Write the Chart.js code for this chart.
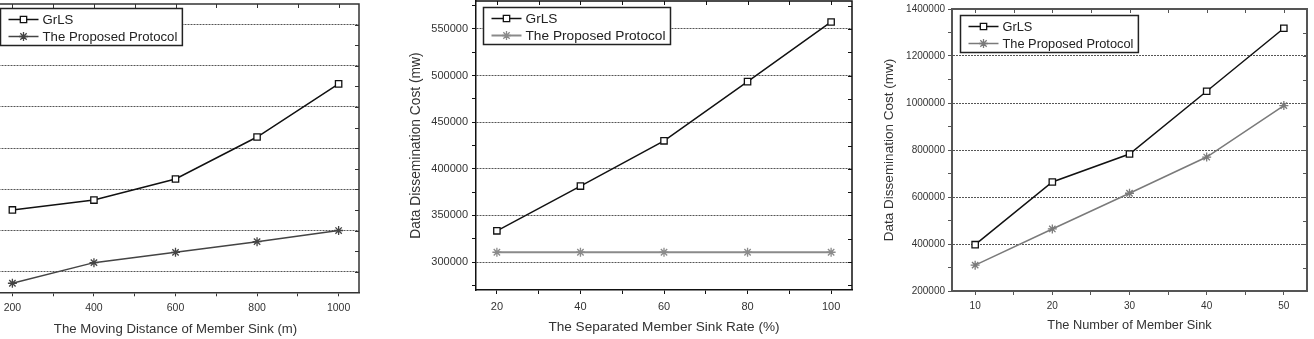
<!DOCTYPE html>
<html>
<head>
<meta charset="utf-8">
<script src="https://cdn.jsdelivr.net/npm/chart.js@4/dist/chart.umd.min.js"></script>
<style>
  body { margin: 0; background: #fff; overflow: hidden; width: 1314px; height: 339px; position: relative; }
  canvas { position: absolute; top: 0; }
</style>
</head>
<body>
<canvas id="distChart" width="445" height="339" style="left:-80px"></canvas>
<canvas id="rateChart" width="462" height="339" style="left:400px"></canvas>
<canvas id="sinkChart" width="442" height="339" style="left:872px"></canvas>
<script>
const seriesNames = ['GrLS', 'The Proposed Protocol']

// left panel: moving distance (y labels are cut off in the picture)
const distance = [200, 400, 600, 800, 1000]
const distGrls = [350000, 374000, 425000, 527000, 656000]
const distProposed = [172000, 222000, 247000, 273000, 300000]
const distXTicks = [200, 300, 400, 500, 600, 700, 800, 900, 1000]
const distXLabels = [200, 400, 600, 800, 1000]
const distYTicks = [200000, 250000, 300000, 350000, 400000, 450000, 500000, 550000, 600000, 650000, 700000, 750000, 800000]
const distYLabels = [200000, 300000, 400000, 500000, 600000, 700000, 800000]

// middle panel: separated member sink rate
const rate = [20, 40, 60, 80, 100]
const rateGrls = [333500, 381500, 430000, 493500, 557500]
const rateProposed = [310500, 310500, 310500, 310500, 310500]
const rateXTicks = [20, 30, 40, 50, 60, 70, 80, 90, 100]
const rateXLabels = [20, 40, 60, 80, 100]
const rateYTicks = [275000, 300000, 325000, 350000, 375000, 400000, 425000, 450000, 475000, 500000, 525000, 550000, 575000]
const rateYLabels = [300000, 350000, 400000, 450000, 500000, 550000]

// right panel: number of member sink
const sinks = [10, 20, 30, 40, 50]
const sinkGrls = [397000, 664000, 783000, 1050000, 1318000]
const sinkProposed = [310000, 464000, 616000, 770000, 989000]
const sinkXTicks = [10, 15, 20, 25, 30, 35, 40, 45, 50]
const sinkXLabels = [10, 20, 30, 40, 50]
const sinkYTicks = [200000, 300000, 400000, 500000, 600000, 700000, 800000, 900000, 1000000, 1100000, 1200000, 1300000, 1400000]
const sinkYLabels = [200000, 400000, 600000, 800000, 1000000, 1200000, 1400000]

const FONT = '"Liberation Sans", Arial, sans-serif'

// top + right frame with inward ticks
const framePlugin = {
  id: 'frame',
  beforeDatasetsDraw(chart, args, opts) {
    const { ctx, chartArea: a, scales: { x, y } } = chart
    ctx.save()
    ctx.strokeStyle = opts.color
    ctx.lineWidth = opts.width
    ctx.beginPath()
    ctx.moveTo(a.left, a.top)
    ctx.lineTo(a.right, a.top)
    ctx.lineTo(a.right, a.bottom)
    ctx.stroke()
    ctx.lineWidth = 1
    ctx.beginPath()
    x.ticks.forEach(t => {
      const px = Math.round(x.getPixelForValue(t.value)) + 0.5
      ctx.moveTo(px, a.top)
      ctx.lineTo(px, a.top + 4)
    })
    y.ticks.forEach(t => {
      const py = Math.round(y.getPixelForValue(t.value)) + 0.5
      ctx.moveTo(a.right, py)
      ctx.lineTo(a.right - 4, py)
    })
    ctx.stroke()
    ctx.restore()
  }
}

// boxed legend sitting inside the plot
const boxLegend = {
  id: 'boxLegend',
  afterDraw(chart, args, o) {
    const { ctx, chartArea: a } = chart
    const left = Math.round(a.left + o.dx) + 0.5
    const top = Math.round(a.top + o.dy) + 0.5
    ctx.save()
    ctx.font = o.size + 'px ' + FONT
    const textW = Math.max(...chart.data.datasets.map(d => ctx.measureText(d.label).width))
    const w = 8 + 30 + 4 + textW + 5
    const h = 37
    ctx.fillStyle = '#fff'
    ctx.fillRect(left, top, w, h)
    ctx.strokeStyle = o.border
    ctx.lineWidth = 1.5
    ctx.strokeRect(left, top, w, h)
    chart.data.datasets.forEach((d, i) => {
      const cy = top + 11 + i * 17
      ctx.strokeStyle = d.borderColor
      ctx.lineWidth = d.borderWidth
      ctx.beginPath()
      ctx.moveTo(left + 8, cy)
      ctx.lineTo(left + 38, cy)
      ctx.stroke()
      ctx.fillStyle = d.pointBackgroundColor
      ctx.strokeStyle = d.pointBorderColor
      ctx.lineWidth = d.pointBorderWidth
      Chart.helpers.drawPoint(ctx, { pointStyle: d.pointStyle, radius: d.pointRadius, rotation: 0, borderWidth: d.pointBorderWidth }, left + 23, cy)
      ctx.fillStyle = '#222'
      ctx.textBaseline = 'middle'
      ctx.fillText(d.label, left + 42, cy + 1)
    })
    ctx.restore()
  }
}

function axis(o) {
  const isY = o.axis === 'y'
  return {
    type: 'linear',
    position: isY ? 'left' : 'bottom',
    min: o.min,
    max: o.max,
    afterBuildTicks: s => { s.ticks = o.ticks.map(v => ({ value: v })) },
    afterFit: s => {
      // fixed axis size, and no extra room for end labels
      if (isY) s.width = o.size; else s.height = o.size
      s.paddingTop = 0
      s.paddingBottom = 0
      s.paddingLeft = 0
      s.paddingRight = 0
    },
    ticks: {
      autoSkip: false,
      maxRotation: 0,
      padding: o.tickPad,
      color: '#333',
      font: { family: FONT, size: o.tickFont },
      callback: v => o.labels.includes(v) ? String(v) : ''
    },
    grid: {
      drawOnChartArea: isY,
      color: c => (isY && c.tick && o.labels.includes(c.tick.value) && c.tick.value > o.min && c.tick.value < o.max) ? '#555' : 'rgba(0,0,0,0)',
      lineWidth: 1,
      tickLength: 4,
      tickWidth: 1,
      tickColor: o.frame
    },
    border: { color: o.frame, width: o.frameWidth, dash: [2, 1] },
    title: {
      display: o.title !== undefined,
      text: o.title,
      color: '#333',
      font: { family: FONT, size: o.titleFont },
      padding: o.titlePad
    }
  }
}

function lineChart(id, o) {
  return new Chart(document.getElementById(id), {
    type: 'line',
    data: {
      datasets: [
        {
          label: seriesNames[0],
          data: o.xs.map((x, i) => ({ x: x, y: o.grls[i] })),
          borderColor: '#111',
          borderWidth: 1.5,
          pointStyle: 'rect',
          pointRadius: 4.5,
          pointBackgroundColor: '#fff',
          pointBorderColor: '#111',
          pointBorderWidth: 1.3
        },
        {
          label: seriesNames[1],
          data: o.xs.map((x, i) => ({ x: x, y: o.proposed[i] })),
          borderColor: o.gray,
          borderWidth: o.grayWidth,
          pointStyle: 'star',
          pointRadius: 4.5,
          pointBackgroundColor: o.gray,
          pointBorderColor: o.gray,
          pointBorderWidth: 1.3
        }
      ]
    },
    options: {
      responsive: false,
      animation: false,
      devicePixelRatio: 1,
      layout: { padding: o.pad, autoPadding: false },
      plugins: {
        legend: { display: false },
        tooltip: { enabled: false },
        frame: { color: o.frame, width: o.frameWidth },
        boxLegend: { dx: o.legendDx, dy: o.legendDy, size: o.legendFont, border: '#222' }
      },
      scales: { x: o.x, y: o.y }
    },
    plugins: [framePlugin, boxLegend]
  })
}

lineChart('distChart', {
  xs: distance, grls: distGrls, proposed: distProposed,
  gray: '#444', grayWidth: 1.5, frame: '#333', frameWidth: 1.5,
  pad: { top: 4, right: 6, left: 0, bottom: 0 },
  legendDx: 8, legendDy: 4, legendFont: 13.2,
  x: axis({ axis: 'x', min: 150, max: 1050, ticks: distXTicks, labels: distXLabels, size: 46.7, tickPad: 6, tickFont: 10.5, frame: '#333', frameWidth: 1.5,
    title: 'The Moving Distance of Member Sink (m)', titleFont: 13.2, titlePad: { top: 0, bottom: 2 } }),
  y: axis({ axis: 'y', min: 150000, max: 850000, ticks: distYTicks, labels: distYLabels, size: 72, tickPad: 3, tickFont: 10.5, frame: '#333', frameWidth: 1.5 })
})

lineChart('rateChart', {
  xs: rate, grls: rateGrls, proposed: rateProposed,
  gray: '#8a8a8a', grayWidth: 2, frame: '#111', frameWidth: 1.5,
  pad: { top: 1, right: 10, left: 0, bottom: 0 },
  legendDx: 7, legendDy: 6, legendFont: 13.7,
  x: axis({ axis: 'x', min: 15, max: 105, ticks: rateXTicks, labels: rateXLabels, size: 49, tickPad: 6, tickFont: 11, frame: '#111', frameWidth: 1.5,
    title: 'The Separated Member Sink Rate (%)', titleFont: 13.6, titlePad: { top: 0, bottom: 4 } }),
  y: axis({ axis: 'y', min: 270000, max: 580000, ticks: rateYTicks, labels: rateYLabels, size: 76, tickPad: 4, tickFont: 11, frame: '#111', frameWidth: 1.5,
    title: 'Data Dissemination Cost (mw)', titleFont: 13.8, titlePad: { top: 8, bottom: 0 } })
})

lineChart('sinkChart', {
  xs: sinks, grls: sinkGrls, proposed: sinkProposed,
  gray: '#7a7a7a', grayWidth: 1.5, frame: '#555', frameWidth: 2,
  pad: { top: 9, right: 7, left: 0, bottom: 0 },
  legendDx: 8, legendDy: 6, legendFont: 12.8,
  x: axis({ axis: 'x', min: 7, max: 53, ticks: sinkXTicks, labels: sinkXLabels, size: 48, tickPad: 5, tickFont: 10, frame: '#555', frameWidth: 2,
    title: 'The Number of Member Sink', titleFont: 12.8, titlePad: { top: 0, bottom: 6 } }),
  y: axis({ axis: 'y', min: 200000, max: 1400000, ticks: sinkYTicks, labels: sinkYLabels, size: 80, tickPad: 3, tickFont: 10, frame: '#555', frameWidth: 2,
    title: 'Data Dissemination Cost (mw)', titleFont: 13.5, titlePad: { top: 9, bottom: 0 } })
})
</script>
</body>
</html>
